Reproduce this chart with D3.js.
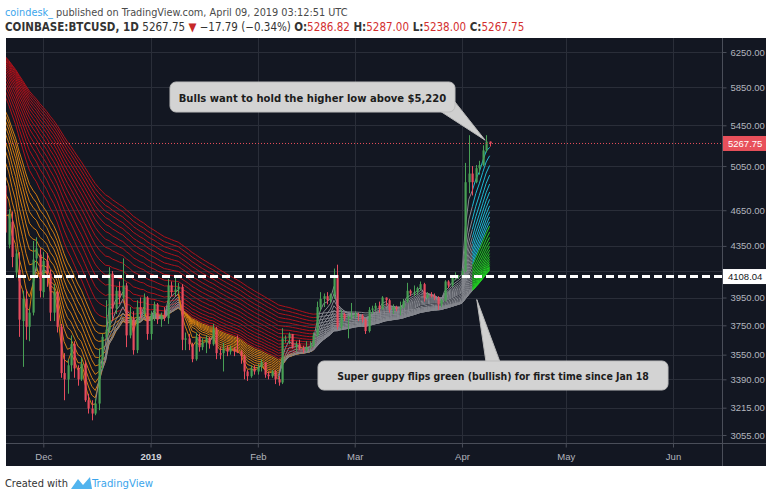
<!DOCTYPE html>
<html>
<head>
<meta charset="utf-8">
<script src="https://cdn.jsdelivr.net/npm/d3@7"></script>
<style>
  body { margin: 0; background: #fff; }
  svg { display: block; font-family: "Liberation Sans Narrow", "DejaVu Sans Condensed", "Open Sans", sans-serif; }
</style>
</head>
<body>
<svg id="chart" width="768" height="497"></svg>
<script>
// ---- data (daily candles, COINBASE:BTCUSD, 20 Nov 2018 .. 9 Apr 2019) ----
var firstDay = "2018-11-20";

var open = [
  4870, 4360, 4550, 4140, 4160, 3780, 3940, 3740, 3840, 4250, 4280,
  3990, 4230, 4130, 3840, 3990, 3740, 3430, 3390, 3480, 3620, 3460, 3390, 3490, 3260, 3210, 3180,
  3240, 3520, 3670, 3720, 4130, 3870, 4000, 3950, 4040, 3680, 3800, 3580, 3880, 3830, 3950,
  3690, 3830, 3900, 3790, 3820, 3800, 4040, 3990, 4010, 4030, 3650, 3660, 3620, 3520, 3670, 3600,
  3630, 3660, 3620, 3720, 3560, 3560, 3590, 3570, 3590, 3570, 3570, 3540, 3440, 3410, 3460,
  3440, 3470, 3500, 3420, 3410, 3440, 3390, 3370, 3660, 3660, 3690, 3600, 3620, 3590,
  3580, 3600, 3610, 3680, 3880, 3940, 3960, 3930, 3970, 4120, 3740, 3830, 3800, 3810,
  3820, 3830, 3820, 3790, 3710, 3860, 3870, 3890, 3870, 3950, 3930, 3860, 3880, 3870, 3880, 3920,
  4000, 3980, 3990, 4020, 4050, 3950, 3970, 3960, 3950, 3900, 3930, 4070, 4040, 4100, 4110,
  4115, 4150, 4900, 4980, 4900, 5030, 5060, 5200, 5286.82
];
var high = [
  4950, 4660, 4640, 4320, 4300, 4000, 4010, 3870, 4390, 4420, 4330,
  4300, 4290, 4160, 4050, 4000, 3760, 3560, 3520, 3680, 3640, 3480, 3530, 3510, 3300, 3260, 3270,
  3590, 3690, 3930, 4180, 4150, 4030, 4070, 4250, 4060, 3880, 3850, 3930, 3950, 3980, 3960,
  3850, 3920, 3910, 3840, 3880, 4090, 4070, 4110, 4060, 4050, 3700, 3690, 3630, 3700, 3690,
  3660, 3680, 3670, 3760, 3740, 3600, 3630, 3610, 3610, 3600, 3680, 3580, 3550, 3450, 3480, 3480,
  3490, 3520, 3500, 3440, 3450, 3450, 3410, 3730, 3680, 3700, 3690, 3640, 3650, 3610,
  3640, 3640, 3700, 3920, 3990, 3980, 3990, 3980, 4170, 4200, 3860, 3840, 3820, 3910,
  3850, 3840, 3830, 3800, 3880, 3890, 3910, 3920, 3960, 3950, 3940, 3900, 3890, 3920, 3940, 4060,
  4010, 4040, 4030, 4070, 4060, 3990, 3990, 3980, 3960, 3940, 4080, 4080, 4120, 4140, 4120,
  4170, 5080, 5350, 5050, 5060, 5100, 5250, 5350, 5287
];
var low = [
  4300, 4330, 4180, 4100, 3670, 3470, 3650, 3640, 3820, 4150, 3950,
  3950, 4030, 3780, 3780, 3700, 3400, 3260, 3300, 3440, 3400, 3350, 3380, 3250, 3180, 3140, 3170,
  3200, 3450, 3650, 3700, 3780, 3830, 3900, 3940, 3600, 3660, 3550, 3560, 3800, 3810, 3650,
  3650, 3780, 3760, 3740, 3780, 3760, 3960, 3960, 3980, 3580, 3580, 3580, 3500, 3510, 3570,
  3580, 3560, 3590, 3610, 3520, 3520, 3440, 3540, 3550, 3540, 3560, 3490, 3390, 3380, 3400, 3420,
  3420, 3440, 3400, 3390, 3400, 3360, 3350, 3360, 3630, 3620, 3590, 3570, 3580, 3560,
  3570, 3590, 3600, 3670, 3850, 3880, 3900, 3910, 3940, 3720, 3720, 3780, 3660, 3790,
  3800, 3780, 3770, 3690, 3700, 3830, 3850, 3840, 3860, 3890, 3840, 3830, 3850, 3820, 3870, 3910,
  3960, 3960, 3970, 4000, 3920, 3940, 3950, 3930, 3860, 3880, 3920, 4020, 4030, 4080, 4090,
  4100, 4140, 4800, 4780, 4890, 4970, 5050, 5180, 5238
];
var close = [
  4460, 4620, 4260, 4290, 3790, 3940, 3740, 3840, 4240, 4330, 4000,
  4230, 4130, 3840, 3990, 3740, 3430, 3390, 3480, 3620, 3460, 3390, 3490, 3260, 3210, 3180, 3240,
  3520, 3670, 3720, 4130, 3870, 4000, 3950, 4040, 3680, 3800, 3580, 3880, 3830, 3950, 3690,
  3830, 3900, 3790, 3820, 3800, 4040, 3990, 4010, 4030, 3650, 3660, 3620, 3520, 3670, 3600,
  3630, 3660, 3620, 3720, 3560, 3550, 3590, 3570, 3590, 3570, 3565, 3540, 3440, 3410, 3460, 3440,
  3470, 3500, 3420, 3410, 3440, 3390, 3370, 3660, 3665, 3690, 3600, 3620, 3590, 3580,
  3600, 3610, 3680, 3880, 3940, 3960, 3930, 3970, 4120, 3740, 3830, 3800, 3810, 3820,
  3830, 3820, 3790, 3710, 3860, 3870, 3890, 3870, 3950, 3930, 3860, 3880, 3870, 3880, 3920, 4000,
  3980, 3990, 4020, 4050, 3950, 3970, 3960, 3950, 3900, 3930, 4070, 4040, 4100, 4110, 4115,
  4150, 4900, 4980, 4900, 5030, 5060, 5200, 5287, 5267.75
];

// super guppy: EMA lengths and their values at the left edge of the chart
var fastLengths = [3, 5, 7, 9, 11, 13, 15, 17, 19, 21, 23];
var slowLengths = [25, 28, 31, 34, 37, 40, 43, 46, 49, 52, 55, 58, 61, 64, 67, 70];
var fastStart = [4600, 4800, 4960, 5090, 5200, 5290, 5370, 5440, 5500, 5555, 5600];
var slowStart = [5750, 5810, 5865, 5910, 5950, 5990, 6025, 6055, 6080, 6105, 6125, 6145, 6160, 6175, 6188, 6197];

var priceTicks = [6250, 5850, 5450, 5050, 4650, 4350, 4150, 3950, 3750, 3550, 3390, 3215, 3055];
var monthTicks = ["2018-12-01", "2019-01-01", "2019-02-01", "2019-03-01", "2019-04-01", "2019-05-01", "2019-06-01"];
var monthLabels = ["Dec", "2019", "Feb", "Mar", "Apr", "May", "Jun"];

var lastPrice = 5267.75;
var supportLevel = 4108.04;

// ---- layout ----
var svg = d3.select("#chart");
var plot = { left: 6, top: 38, right: 722, bottom: 443 };
var boxRight = 766, boxBottom = 466;

var parseDay = d3.utcParse("%Y-%m-%d");
var dates = d3.utcDay.range(parseDay(firstDay), d3.utcDay.offset(parseDay(firstDay), close.length));

var x = d3.scaleUtc()
  .domain([parseDay("2018-12-01"), parseDay("2019-06-01")])
  .range([43.3, 673]);
var y = d3.scaleLog().domain([3055, 6250]).range([435, 52]);

// background
svg.append("rect").attr("x", plot.left).attr("y", plot.top)
  .attr("width", boxRight - plot.left).attr("height", boxBottom - plot.top)
  .attr("fill", "#131722");

// header
function fitWidth(sel, target) {
  var size = parseFloat(sel.style("font-size"));
  var w = sel.node().getComputedTextLength();
  sel.style("font-size", (size * target / w) + "px");
}
var h1 = svg.append("text").attr("x", 5).attr("y", 16).style("font-size", "12px");
h1.append("tspan").attr("fill", "#3ba5ec").text("coindesk_");
h1.append("tspan").attr("fill", "#4a4a4a").text(" published on TradingView.com, April 09, 2019 03:12:51 UTC");
fitWidth(h1, 343);

var h2 = svg.append("text").attr("x", 5).attr("y", 31).style("font-size", "12px").attr("fill", "#333");
h2.append("tspan").attr("font-weight", "bold").text("COINBASE:BTCUSD, 1D ");
h2.append("tspan").text(" 5267.75 ");
h2.append("tspan").attr("fill", "#c62828").text("▼");
h2.append("tspan").text(" −17.79 (−0.34%) ");
[["O:", "5286.82"], ["H:", "5287.00"], ["L:", "5238.00"], ["C:", "5267.75"]].forEach(function (p, i) {
  h2.append("tspan").attr("font-weight", "bold").text((i ? " " : "") + p[0]);
  h2.append("tspan").attr("fill", "#d32f2f").text(p[1]);
});
fitWidth(h2, 520);

// grid
var grid = svg.append("g");
grid.selectAll(".hg").data(priceTicks).enter().append("line")
  .attr("x1", plot.left).attr("x2", plot.right)
  .attr("y1", function (d) { return Math.round(y(d)) + 0.5; })
  .attr("y2", function (d) { return Math.round(y(d)) + 0.5; })
  .attr("stroke", "#2a2e39");
grid.selectAll(".vg").data(monthTicks).enter().append("line")
  .attr("y1", plot.top).attr("y2", plot.bottom)
  .attr("x1", function (d) { return Math.round(x(parseDay(d))) + 0.5; })
  .attr("x2", function (d) { return Math.round(x(parseDay(d))) + 0.5; })
  .attr("stroke", "#2a2e39");

svg.append("clipPath").attr("id", "clip").append("rect")
  .attr("x", plot.left).attr("y", plot.top)
  .attr("width", plot.right - plot.left).attr("height", plot.bottom - plot.top);
var g = svg.append("g").attr("clip-path", "url(#clip)");

// ---- super guppy ----
function ema(len, start) {
  var a = 2 / (len + 1), e = start;
  return close.map(function (c, i) {
    if (i > 0) e = e + a * (c - e);
    return e;
  });
}
var fast = fastLengths.map(function (n, k) { return ema(n, fastStart[k]); });
var slow = slowLengths.map(function (n, k) { return ema(n, slowStart[k]); });

function order(group, i) {
  var up = true, dn = true;
  for (var k = 0; k < group.length - 1; k++) {
    if (!(group[k][i] > group[k + 1][i])) up = false;
    if (!(group[k][i] < group[k + 1][i])) dn = false;
  }
  return up ? 1 : dn ? -1 : 0;
}
var slowState = dates.map(function (d, i) { return order(slow, i); });
var slowCol = slowState.map(function (s) { return s === 1 ? "#21cf21" : s === -1 ? "#b0111a" : "#85878e"; });
// each fast line is judged against the next longer average
var fastCols = fast.map(function (v, k) {
  var next = k < fast.length - 1 ? fast[k + 1] : slow[0];
  return v.map(function (e, i) {
    if (e > next[i] && slowState[i] === 1) return "#1fb8d0";
    if (e < next[i] && slowState[i] === -1) return "#d27c12";
    return "#85878e";
  });
});

function drawLine(vals, cols) {
  var path = d3.line().x(function (i) { return x(dates[i]); }).y(function (i) { return y(vals[i]); });
  var run = [0, 1], col = cols[1];
  for (var i = 2; i <= vals.length; i++) {
    if (i === vals.length || cols[i] !== col) {
      g.append("path").attr("d", path(run)).attr("fill", "none")
        .attr("stroke", col).attr("stroke-width", 1);
      if (i === vals.length) break;
      run = [i - 1, i];
      col = cols[i];
    } else {
      run.push(i);
    }
  }
}
slow.slice().reverse().forEach(function (v) { drawLine(v, slowCol); });
fast.slice().reverse().forEach(function (v, r) { drawLine(v, fastCols[fast.length - 1 - r]); });

// ---- candles ----
var upCol = "#48a055", downCol = "#e84c5e";
var candles = g.selectAll(".candle").data(dates).enter().append("g");
candles.append("line")
  .attr("x1", function (d) { return Math.round(x(d)) + 0.5; })
  .attr("x2", function (d) { return Math.round(x(d)) + 0.5; })
  .attr("y1", function (d, i) { return y(high[i]); })
  .attr("y2", function (d, i) { return y(low[i]); })
  .attr("stroke", function (d, i) { return close[i] >= open[i] ? upCol : downCol; });
candles.append("rect")
  .attr("x", function (d) { return Math.round(x(d)) - 0.5; })
  .attr("width", 2.2)
  .attr("y", function (d, i) { return y(Math.max(open[i], close[i])); })
  .attr("height", function (d, i) { return Math.max(1, Math.abs(y(open[i]) - y(close[i]))); })
  .attr("fill", function (d, i) { return close[i] >= open[i] ? upCol : downCol; });

// price lines
g.append("line").attr("x1", plot.left).attr("x2", plot.right)
  .attr("y1", y(lastPrice)).attr("y2", y(lastPrice))
  .attr("stroke", "#e8505b").attr("stroke-dasharray", "1,2");
svg.append("line").attr("x1", plot.left).attr("x2", plot.right + 4)
  .attr("y1", y(supportLevel)).attr("y2", y(supportLevel))
  .attr("stroke", "#fff").attr("stroke-width", 3).attr("stroke-dasharray", "8,4");

// ---- axes ----
svg.append("line").attr("x1", plot.right + 0.5).attr("x2", plot.right + 0.5)
  .attr("y1", plot.top).attr("y2", boxBottom).attr("stroke", "#4a4e59");
svg.append("line").attr("x1", plot.left).attr("x2", boxRight)
  .attr("y1", plot.bottom + 0.5).attr("y2", plot.bottom + 0.5).attr("stroke", "#4a4e59");

var yAxis = svg.append("g").attr("transform", "translate(" + (plot.right + 0.5) + ",0)")
  .call(d3.axisRight(y).tickValues(priceTicks).tickSize(4).tickPadding(4)
    .tickFormat(function (d) { return d === 4150 ? "" : d3.format(".2f")(d); }));
var xAxis = svg.append("g").attr("transform", "translate(0," + (plot.bottom + 0.5) + ")")
  .call(d3.axisBottom(x).tickValues(monthTicks.map(parseDay)).tickSize(4).tickPadding(6)
    .tickFormat(function (d, i) { return monthLabels[i]; }));
[yAxis, xAxis].forEach(function (ax) {
  ax.select(".domain").remove();
  ax.selectAll("line").attr("stroke", "#4a4e59");
  ax.selectAll("text").attr("fill", "#b2b5be")
    .style("font-family", "'Liberation Sans', sans-serif").style("font-size", "9.5px");
});
xAxis.selectAll("text").filter(function (d, i) { return i === 1; })
  .attr("fill", "#d1d4dc").attr("font-weight", "bold");

// last price and support labels
function priceTag(v, bg, fg) {
  var t = svg.append("g").attr("transform", "translate(" + (plot.right + 1) + "," + y(v) + ")");
  t.append("rect").attr("x", 0).attr("y", -7.5).attr("width", 43).attr("height", 15).attr("fill", bg);
  t.append("text").attr("x", 5).attr("y", 3.5).attr("fill", fg)
    .style("font-family", "'Liberation Sans', sans-serif").style("font-size", "9.5px")
    .text(d3.format(".2f")(v));
}
priceTag(lastPrice, "#e8505b", "#fff");
priceTag(supportLevel, "#fff", "#131722");

// ---- callouts ----
function callout(bx, by, bw, bh, pointer, label, textW) {
  var c = svg.append("g");
  c.append("polygon").attr("points", pointer.map(function (p) { return p.join(","); }).join(" "))
    .attr("fill", "#cfcfcf").attr("stroke", "#b8b8b8");
  c.append("rect").attr("x", bx).attr("y", by).attr("width", bw).attr("height", bh).attr("rx", 6)
    .attr("fill", "#d3d3d3").attr("stroke", "#bdbdbd");
  c.append("polygon").attr("points", pointer.slice(0, 2).concat([[bx + bw / 2, by + bh / 2]])
    .map(function (p) { return p.join(","); }).join(" ")).attr("fill", "#d3d3d3");
  var t = c.append("text").attr("x", bx + bw / 2).attr("y", by + bh / 2 + 4.5)
    .attr("text-anchor", "middle").attr("font-weight", "bold").attr("fill", "#1c1c1c")
    .style("font-size", "13px").text(label);
  fitWidth(t, textW);
}
var apr8 = x(parseDay("2019-04-08")), apr5 = x(parseDay("2019-04-05"));
callout(170, 82, 285, 30, [[440, 111], [455, 102], [apr8 - 1, y(5300)]],
  "Bulls want to hold the higher low above $5,220", 268);
callout(318, 361, 350, 29, [[486, 362], [500, 362], [apr5 + 1, y(3935)]],
  "Super guppy flips green (bullish) for first time since Jan 18", 312);

// footer
var f = svg.append("text").attr("x", 5).attr("y", 487).attr("fill", "#333").style("font-size", "12px").text("Created with");
fitWidth(f, 63);
svg.append("path").attr("d", "M71,489 L78,479 L83,485 L90,477 L92,489 Z").attr("fill", "#52b4ee");
var f2 = svg.append("text").attr("x", 92).attr("y", 487).attr("fill", "#3ba5ec").style("font-size", "12px").text("TradingView");
fitWidth(f2, 61);
</script>
</body>
</html>
